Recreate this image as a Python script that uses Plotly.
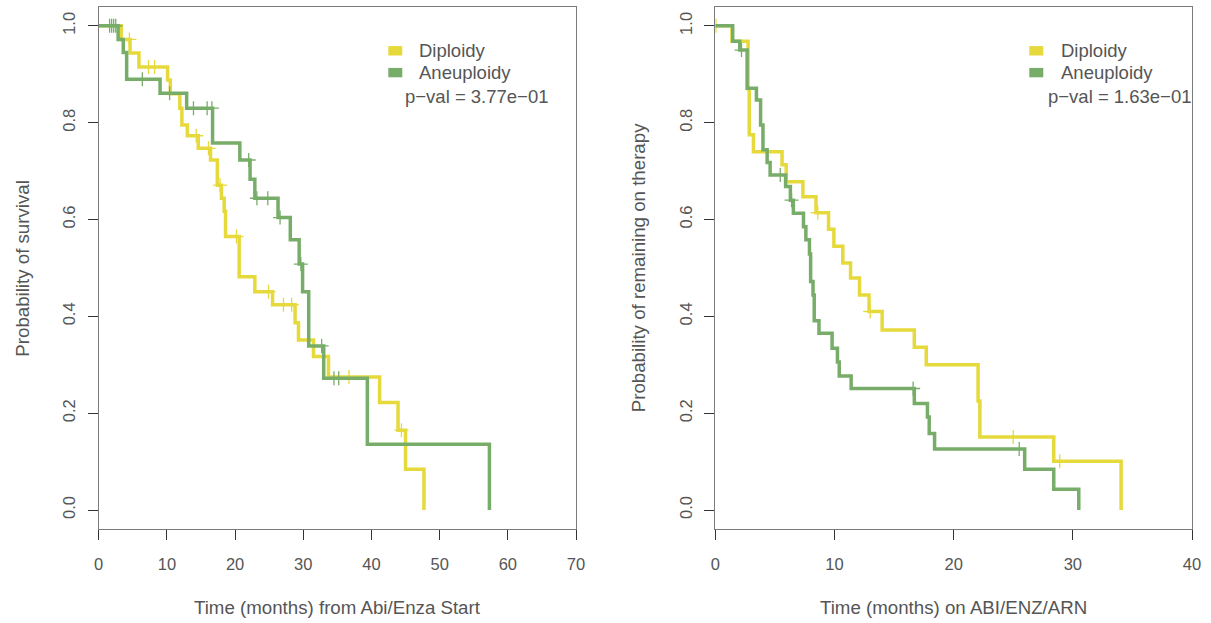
import plotly.graph_objects as go

# ---------------- data ----------------
# Left panel: overall survival from Abi/Enza start
left_dip_t = [0, 3.3, 4.6, 5.9, 10.1, 10.5, 11.9, 12.2, 13.0, 14.6, 16.4, 17.4, 18.0, 18.4, 18.6,
              20.6, 22.9, 25.5, 28.8, 29.3, 31.5, 33.7, 41.2, 43.9, 45.0, 47.7]
left_dip_s = [1.0, 0.972, 0.944, 0.915, 0.888, 0.860, 0.830, 0.795, 0.773, 0.747, 0.723, 0.671, 0.644, 0.617, 0.565,
              0.482, 0.451, 0.424, 0.387, 0.351, 0.317, 0.275, 0.222, 0.165, 0.084, 0.0]
left_dip_cens = [4.5, 7.3, 8.2, 14.3, 16.1, 17.8, 20.2, 24.9, 27.1, 28.3, 36.7, 44.4]

left_aneu_t = [0, 2.85, 3.6, 4.1, 9.0, 12.9, 16.7, 20.7, 22.2, 22.9, 26.3, 28.1, 29.4, 29.9,
               30.8, 33.0, 39.4, 57.3]
left_aneu_s = [1.0, 0.972, 0.945, 0.890, 0.861, 0.830, 0.758, 0.723, 0.683, 0.644, 0.604, 0.558, 0.508, 0.451,
               0.339, 0.272, 0.136, 0.0]
left_aneu_cens = [1.6, 1.9, 2.2, 2.5, 6.4, 10.4, 13.9, 15.9, 16.6, 22.0, 23.2, 24.8, 26.6, 29.65,
                  32.7, 34.5, 35.2]

# Right panel: time on ABI/ENZ/ARN
right_dip_t = [0, 1.4, 2.75, 2.85, 3.2, 5.6, 5.95, 7.35, 8.45, 9.5, 9.95, 10.7, 11.35, 12.1, 12.9,
               14.0, 16.7, 17.7, 22.05, 22.2, 28.4, 34.05]
right_dip_s = [1.0, 0.968, 0.870, 0.775, 0.740, 0.713, 0.678, 0.647, 0.614, 0.580, 0.545, 0.510, 0.479, 0.444, 0.410,
               0.372, 0.336, 0.300, 0.225, 0.151, 0.101, 0.0]
right_dip_cens = [0.05, 8.6, 13.0, 25.0, 28.9]

right_aneu_t = [0, 1.46, 2.05, 2.67, 3.45, 3.8, 4.0, 4.35, 4.6, 5.9, 6.3, 6.55, 7.4, 7.6, 7.9, 8.0,
                8.2, 8.3, 8.7, 9.8, 10.25, 10.4, 11.4, 16.7, 17.8, 17.95, 18.4, 25.96, 28.4, 30.5]
right_aneu_s = [1.0, 0.968, 0.950, 0.871, 0.847, 0.795, 0.744, 0.718, 0.692, 0.668, 0.640, 0.613, 0.585, 0.558,
                0.529, 0.472, 0.444, 0.391, 0.365, 0.334, 0.306, 0.277, 0.251, 0.220, 0.192, 0.158, 0.126,
                0.084, 0.043, 0.0]
right_aneu_cens = [2.2, 5.45, 6.4, 16.6, 25.5]

groups = ["Diploidy", "Aneuploidy"]
pvals = ["p\u2212val = 3.77e\u221201", "p\u2212val = 1.63e\u221201"]
x_titles = ["Time (months) from Abi/Enza Start", "Time (months) on ABI/ENZ/ARN"]
y_titles = ["Probability of survival", "Probability of remaining on therapy"]
left_xticks = [0, 10, 20, 30, 40, 50, 60, 70]
right_xticks = [0, 10, 20, 30, 40]
yticks = [0.0, 0.2, 0.4, 0.6, 0.8, 1.0]

# ---------------- style ----------------
W, H = 1211, 623
YELLOW = "#E6D93C"
GREEN = "#77AD69"
TXT = "#555555"
FONT = "Liberation Sans, Arial, sans-serif"


def px(x):
    return x / W


def py(y):
    return 1 - y / H


def step_at(ts, ss, t):
    val = ss[0]
    for ti, si in zip(ts, ss):
        if ti <= t:
            val = si
    return val


fig = go.Figure()

panels = [
    ("x", "y", left_dip_t, left_dip_s, left_dip_cens, left_aneu_t, left_aneu_s, left_aneu_cens),
    ("x2", "y2", right_dip_t, right_dip_s, right_dip_cens, right_aneu_t, right_aneu_s, right_aneu_cens),
]
for xa, ya, dt, ds, dc, at, as_, ac in panels:
    for t, s, c, col in ((dt, ds, dc, YELLOW), (at, as_, ac, GREEN)):
        fig.add_trace(go.Scatter(x=t, y=s, mode="lines", line=dict(color=col, width=3.5, shape="hv"),
                                 xaxis=xa, yaxis=ya, showlegend=False, hoverinfo="skip"))
        fig.add_trace(go.Scatter(x=c, y=[step_at(t, s, v) for v in c], mode="markers",
                                 marker=dict(symbol="cross-thin", size=10,
                                             line=dict(color=col, width=1.3)),
                                 xaxis=xa, yaxis=ya, showlegend=False, hoverinfo="skip"))

ytop, ybot = 6.5, 529.4
common = dict(showline=True, mirror=True, linecolor="#7a7a7a", linewidth=1, ticks="outside",
              ticklen=10, tickcolor="#333333", tickwidth=1, showgrid=False, zeroline=False,
              automargin=False, tickfont=dict(family=FONT, size=16.5, color=TXT))
fig.update_layout(
    width=W, height=H, margin=dict(l=0, r=0, t=0, b=0, autoexpand=False),
    paper_bgcolor="white", plot_bgcolor="white", showlegend=False,
    xaxis=dict(domain=[px(98.7), px(576)], range=[0, 70], tickvals=left_xticks,
               ticklabelstandoff=10, anchor="y", **common),
    xaxis2=dict(domain=[px(715.3), px(1192)], range=[0, 40], tickvals=right_xticks,
                ticklabelstandoff=10, anchor="y2", **common),
    yaxis=dict(domain=[py(ybot), py(ytop)], range=[-0.04, 1.04], tickvals=yticks,
               ticktext=[f"{v:.1f}" for v in yticks], tickangle=-90, ticklabelstandoff=6,
               anchor="x", **common),
    yaxis2=dict(domain=[py(ybot), py(ytop)], range=[-0.04, 1.04], tickvals=yticks,
                ticktext=[f"{v:.1f}" for v in yticks], tickangle=-90, ticklabelstandoff=6,
                anchor="x2", **common),
)

ann = []
shapes = []
# axis titles
for cx, txt in zip([337.3, 953.6], x_titles):
    ann.append(dict(x=px(cx), y=py(607), xref="paper", yref="paper", text=txt, showarrow=False,
                    xanchor="center", yanchor="middle", font=dict(family=FONT, size=18.7, color=TXT)))
for cx, txt in zip([21.7, 638.3], y_titles):
    ann.append(dict(x=px(cx), y=py(268), xref="paper", yref="paper", text=txt, showarrow=False,
                    textangle=-90, xanchor="center", yanchor="middle",
                    font=dict(family=FONT, size=18.7, color=TXT)))

# legends
legend_pos = [(388.3, 419.3, 405.0), (1029.3, 1061.0, 1048.3)]
for (sqx, tx, pvx), pv in zip(legend_pos, pvals):
    for i, (g, col) in enumerate(zip(groups, [YELLOW, GREEN])):
        cy = 50.8 + i * 21.8
        shapes.append(dict(type="rect", xref="paper", yref="paper", x0=px(sqx), x1=px(sqx + 14),
                           y0=py(cy + 4.7), y1=py(cy - 4.7), fillcolor=col, line=dict(width=0)))
        ann.append(dict(x=px(tx - 2), y=py(cy), xref="paper", yref="paper", text=g, showarrow=False,
                        xanchor="left", yanchor="middle", font=dict(family=FONT, size=18.5, color=TXT)))
    ann.append(dict(x=px(pvx - 2), y=py(96.5), xref="paper", yref="paper", text=pv, showarrow=False,
                    xanchor="left", yanchor="middle", font=dict(family=FONT, size=18.5, color=TXT)))

fig.update_layout(annotations=ann, shapes=shapes)
fig.write_html("out.html")
